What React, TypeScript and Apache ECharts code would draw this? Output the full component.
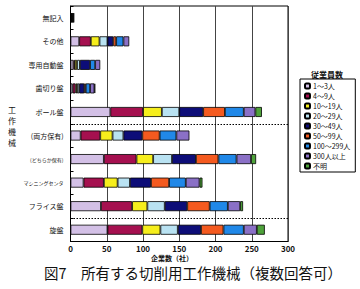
import React, { useEffect, useRef } from "react";
import * as echarts from "echarts";

const FONT = '"Noto Sans CJK JP", "Noto Sans", sans-serif';

// Categories, top to bottom
const categories = [
  "無記入",
  "その他",
  "専用自動盤",
  "歯切り盤",
  "ボール盤",
  "(両方保有)",
  "(どちらか保有)",
  "マシニングセンタ",
  "フライス盤",
  "旋盤",
];
const condensedLabels = ["(どちらか保有)", "マシニングセンタ"];

const sizeClasses = [
  "1～3人",
  "4～9人",
  "10～19人",
  "20～29人",
  "30～49人",
  "50～99人",
  "100～299人",
  "300人以上",
  "不明",
];

// Company counts per employee-size class (same order as categories)
const emp1to3 = [1, 12, 4, 3, 55, 14, 46, 18, 42, 51];
const emp4to9 = [1, 16, 2, 4, 45, 27, 45, 28, 43, 48];
const emp10to19 = [0, 12, 3, 2, 26, 17, 23, 19, 21, 25];
const emp20to29 = [0, 11, 4, 3, 24, 15, 26, 17, 24, 24];
const emp30to49 = [1, 8, 14, 7, 33, 26, 33, 29, 31, 32];
const emp50to99 = [0, 4, 0, 2, 30, 24, 31, 25, 31, 31];
const emp100to299 = [1, 10, 7, 6, 26, 23, 25, 23, 25, 28];
const emp300plus = [0, 8, 7, 6, 16, 18, 20, 19, 17, 18];
const empUnknown = [1, 0, 0, 1, 9, 0, 7, 4, 4, 11];

const seriesValues = [
  emp1to3,
  emp4to9,
  emp10to19,
  emp20to29,
  emp30to49,
  emp50to99,
  emp100to299,
  emp300plus,
  empUnknown,
];

const colors = [
  "#d3c0e6",
  "#a5104f",
  "#f6ee1c",
  "#b9e2f2",
  "#0d0d78",
  "#f45a1f",
  "#2088e8",
  "#8a70c6",
  "#4ea23a",
];

// x axis
const xMin = 0;
const xMax = 300;
const xInterval = 50;

// dotted separators drawn below these category indices
const separatorAfter = [4, 8];

const yAxisTitle = "工作機械";
const xAxisTitle = "企業数（社）";
const legendTitle = "従業員数";
const caption = "図7　所有する切削用工作機械（複数回答可）";

export default function App() {
  const ref = useRef<HTMLDivElement>(null);

  useEffect(() => {
    if (!ref.current) return;
    const chart = echarts.init(ref.current, undefined, { renderer: "svg" });

    const barSeries = sizeClasses.map((name, i) => ({
      name,
      type: "bar",
      stack: "total",
      barWidth: 10,
      data: seriesValues[i].map((v) => (v === 0 ? null : v)),
      itemStyle: { color: colors[i], borderColor: "#000", borderWidth: 0.8 },
    }));

    const sepSeries = {
      type: "custom",
      silent: true,
      data: separatorAfter.map((idx) => [0, idx]),
      encode: { x: 0, y: 1 },
      renderItem: (params: any, api: any) => {
        const cs = params.coordSys;
        const p = api.coord([0, api.value(1)]);
        const band = Math.abs(api.size([0, 1])[1]);
        const y = Math.round(p[1] + band / 2) + 0.5;
        return {
          type: "line",
          shape: { x1: cs.x, y1: y, x2: cs.x + cs.width, y2: y },
          style: { stroke: "#000", lineWidth: 1, lineDash: [1.5, 1.5] },
        };
      },
    };

    chart.setOption({
      animation: false,
      textStyle: { fontFamily: FONT },
      grid: {
        left: 70.5,
        right: 72,
        top: 6,
        bottom: 47.5,
        show: true,
        borderColor: "#000",
        borderWidth: 1,
      },
      xAxis: {
        type: "value",
        min: xMin,
        max: xMax,
        interval: xInterval,
        axisLine: { show: true, lineStyle: { color: "#000" } },
        axisTick: { show: false },
        splitLine: { show: true, lineStyle: { color: "#444", width: 1 } },
        axisLabel: {
          fontSize: 8,
          fontWeight: "bold",
          color: "#111",
          margin: 2.5,
          fontFamily: FONT,
        },
      },
      yAxis: {
        type: "category",
        inverse: true,
        data: categories,
        axisLine: { show: true, lineStyle: { color: "#000" } },
        axisTick: { show: true, inside: true, length: 3, lineStyle: { color: "#000" } },
        splitLine: { show: false },
        axisLabel: {
          fontSize: 7,
          color: "#111",
          margin: 7,
          fontFamily: FONT,
          formatter: (v: string) => (condensedLabels.includes(v) ? `{s|${v}}` : v),
          rich: { s: { fontSize: 5, color: "#111", fontFamily: FONT } },
        },
      },
      legend: {
        data: sizeClasses,
        orient: "vertical",
        left: 300,
        top: 79,
        padding: [3, 5, 2, 4],
        itemWidth: 5,
        itemHeight: 5,
        itemGap: 2,
        backgroundColor: "#fff",
        borderColor: "#000",
        borderWidth: 1,
        borderRadius: 0,
        selectedMode: false,
        textStyle: { fontSize: 7, lineHeight: 8, color: "#111", fontFamily: FONT, padding: [0, 0, 0, -2] },
      },
      graphic: [
        {
          type: "text",
          left: 8,
          top: 104,
          style: {
            text: yAxisTitle.split("").join("\n"),
            fontSize: 8,
            lineHeight: 11,
            fill: "#111",
            fontFamily: FONT,
          },
        },
        {
          type: "text",
          x: 172,
          y: 257.5,
          style: {
            text: xAxisTitle,
            fontSize: 7,
            fontWeight: "bold",
            fill: "#111",
            align: "center",
            verticalAlign: "middle",
            fontFamily: FONT,
          },
        },
        {
          type: "text",
          x: 327,
          y: 74,
          style: {
            text: legendTitle,
            fontSize: 8,
            fontWeight: "bold",
            fill: "#111",
            align: "center",
            verticalAlign: "middle",
            fontFamily: FONT,
          },
        },
        {
          type: "text",
          x: 193,
          y: 272.5,
          style: {
            text: caption,
            fontSize: 14.5,
            fill: "#111",
            align: "center",
            verticalAlign: "middle",
            fontFamily: FONT,
          },
        },
      ],
      series: [...barSeries, sepSeries],
    });

    return () => chart.dispose();
  }, []);

  return (
    <div
      ref={ref}
      style={{ position: "fixed", left: 0, top: 0, width: 360, height: 289, background: "#fff" }}
    />
  );
}
